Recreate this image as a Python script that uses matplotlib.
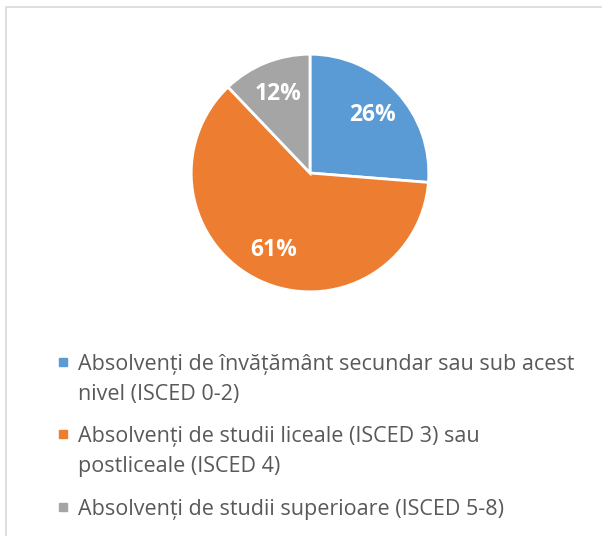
import matplotlib.pyplot as plt
from matplotlib.patches import Rectangle

plt.rcParams['font.family'] = ['Open Sans', 'DejaVu Sans']

labels = [["Absolvenți de învățământ secundar sau sub acest", "nivel (ISCED 0-2)"],
          ["Absolvenți de studii liceale (ISCED 3) sau", "postliceale (ISCED 4)"],
          ["Absolvenți de studii superioare (ISCED 5-8)"]]
shares = [26, 61, 12]
colors = ['#5B9BD5', '#ED7D31', '#A5A5A5']

W, H = 602, 536
fig = plt.figure(figsize=(W / 100, H / 100), dpi=100)

# pie area
ax = fig.add_axes([(310 - 120) / W, (H - 293) / H, 240 / W, 240 / H])
wedges, texts, autotexts = ax.pie(shares, colors=colors, startangle=90, counterclock=False,
                                  autopct='%d%%', pctdistance=0.72,
                                  wedgeprops=dict(edgecolor='white', linewidth=2),
                                  textprops=dict(color='white', fontsize=16.5, fontweight='bold'))
for t, v in zip(autotexts, shares):
    t.set_text(f"{v}%")
ax.set_xlim(-1.01, 1.01)
ax.set_ylim(-1.01, 1.01)
ax.set_aspect('equal')

# chart frame (Excel style)
fig.patches.append(Rectangle((6 / W, -0.1), 1.2, 1 - 7 / H + 0.1, transform=fig.transFigure,
                             fill=False, edgecolor='#D9D9D9', linewidth=1.2))

# legend, one baseline per text line
baselines = [[370, 400], [442, 472], [515]]
for lines, c, ys in zip(labels, colors, baselines):
    fig.patches.append(Rectangle((59 / W, 1 - (ys[0] - 4) / H), 8 / W, 8 / H,
                                 transform=fig.transFigure, color=c))
    for line, y in zip(lines, ys):
        fig.text(78 / W, 1 - y / H, line, fontsize=15.5, color='#595959',
                 va='baseline', ha='left')

fig.savefig('out.png', dpi=100)
